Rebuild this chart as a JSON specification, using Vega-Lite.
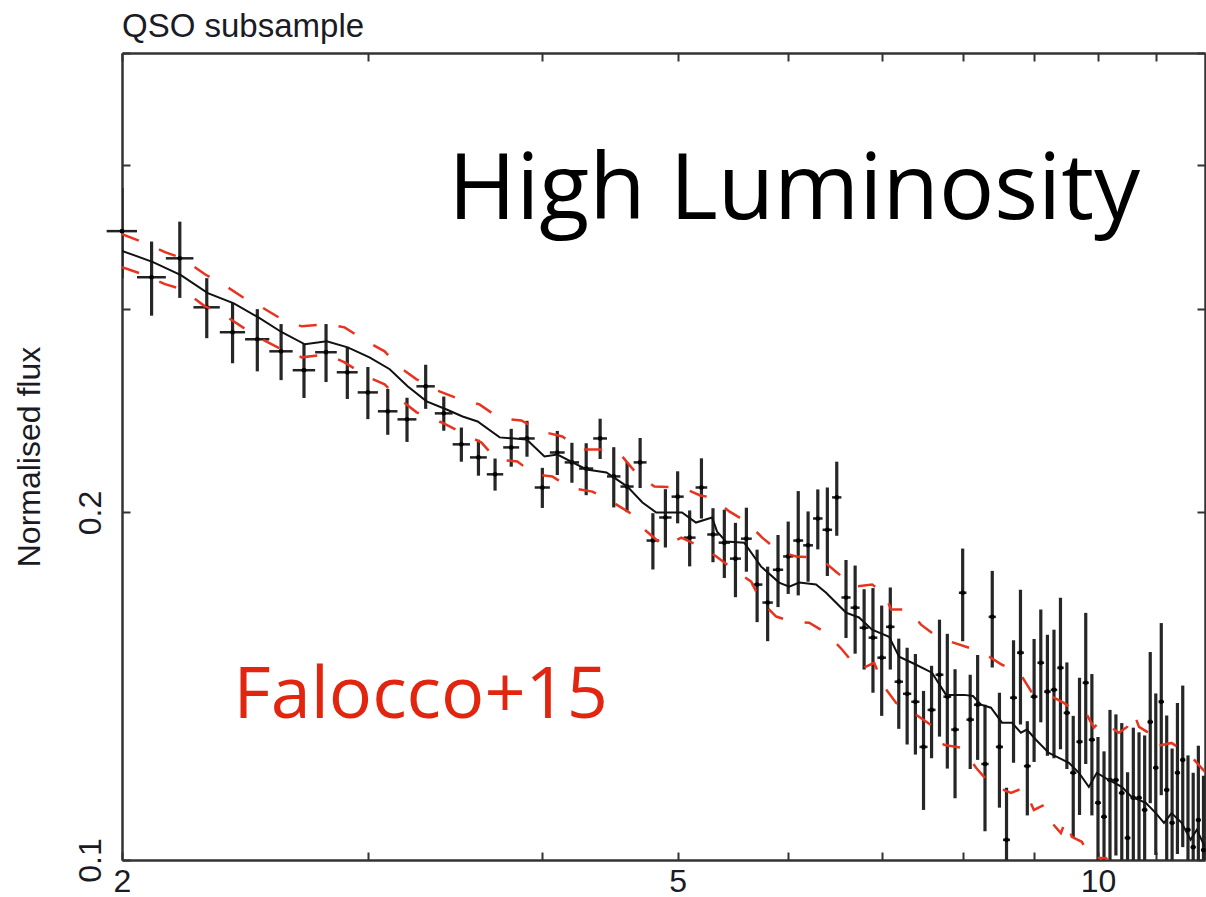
{
 "$schema": "https://vega.github.io/schema/vega-lite/v6.json",
 "width": 1083,
 "height": 807,
 "autosize": {"type": "none"},
 "padding": {"left": 122, "top": 53, "right": 1, "bottom": 37},
 "background": "white",
 "title": {"text": "QSO subsample", "anchor": "start", "frame": "group", "font": "Liberation Sans", "fontSize": 33, "fontWeight": "normal", "color": "#1b1b25", "baseline": "alphabetic", "offset": 16, "dy": 34},
 "config": {
  "view": {"stroke": null},
  "axis": {"grid": false, "domainColor": "#333", "domainWidth": 2.5, "tickColor": "#333", "tickWidth": 2, "tickSize": -8,
   "labelFont": "Liberation Sans", "labelFontSize": 32, "labelColor": "#1b1b25",
   "titleFont": "Liberation Sans", "titleFontSize": 32, "titleFontWeight": "normal", "titleColor": "#1b1b25"}
 },
 "datasets": {
  "pts": [
   {"E":2.0,"F":0.3505,"lo":0.3190,"hi":0.3820,"w":0.05},
   {"E":2.1,"F":0.3197,"lo":0.2961,"hi":0.3433,"w":0.05},
   {"E":2.2,"F":0.3320,"lo":0.3068,"hi":0.3572,"w":0.05},
   {"E":2.3,"F":0.3011,"lo":0.2831,"hi":0.3191,"w":0.05},
   {"E":2.4,"F":0.2865,"lo":0.2693,"hi":0.3037,"w":0.05},
   {"E":2.5,"F":0.2825,"lo":0.2650,"hi":0.3000,"w":0.05},
   {"E":2.6,"F":0.2758,"lo":0.2604,"hi":0.2912,"w":0.05},
   {"E":2.7,"F":0.2656,"lo":0.2513,"hi":0.2799,"w":0.05},
   {"E":2.8,"F":0.2753,"lo":0.2594,"hi":0.2912,"w":0.05},
   {"E":2.9,"F":0.2645,"lo":0.2508,"hi":0.2782,"w":0.05},
   {"E":3.0,"F":0.2541,"lo":0.2409,"hi":0.2673,"w":0.05},
   {"E":3.1,"F":0.2447,"lo":0.2335,"hi":0.2559,"w":0.05},
   {"E":3.2,"F":0.2408,"lo":0.2302,"hi":0.2514,"w":0.05},
   {"E":3.3,"F":0.2572,"lo":0.2459,"hi":0.2685,"w":0.05},
   {"E":3.4,"F":0.2437,"lo":0.2354,"hi":0.2520,"w":0.05},
   {"E":3.5,"F":0.2291,"lo":0.2213,"hi":0.2369,"w":0.05},
   {"E":3.6,"F":0.2232,"lo":0.2152,"hi":0.2312,"w":0.05},
   {"E":3.7,"F":0.2158,"lo":0.2089,"hi":0.2227,"w":0.05},
   {"E":3.8,"F":0.2277,"lo":0.2191,"hi":0.2363,"w":0.05},
   {"E":3.9,"F":0.2318,"lo":0.2235,"hi":0.2401,"w":0.05},
   {"E":4.0,"F":0.2102,"lo":0.2018,"hi":0.2186,"w":0.05},
   {"E":4.1,"F":0.2254,"lo":0.2155,"hi":0.2353,"w":0.05},
   {"E":4.2,"F":0.2210,"lo":0.2122,"hi":0.2298,"w":0.05},
   {"E":4.3,"F":0.2183,"lo":0.2070,"hi":0.2296,"w":0.05},
   {"E":4.4,"F":0.2318,"lo":0.2225,"hi":0.2411,"w":0.05},
   {"E":4.5,"F":0.2149,"lo":0.2020,"hi":0.2278,"w":0.05},
   {"E":4.6,"F":0.2106,"lo":0.2001,"hi":0.2211,"w":0.05},
   {"E":4.7,"F":0.2210,"lo":0.2100,"hi":0.2320,"w":0.05},
   {"E":4.8,"F":0.1891,"lo":0.1785,"hi":0.1997,"w":0.05},
   {"E":4.9,"F":0.1980,"lo":0.1865,"hi":0.2095,"w":0.05},
   {"E":5.0,"F":0.2064,"lo":0.1957,"hi":0.2171,"w":0.05},
   {"E":5.1,"F":0.1902,"lo":0.1796,"hi":0.2008,"w":0.05},
   {"E":5.2,"F":0.2102,"lo":0.1976,"hi":0.2228,"w":0.05},
   {"E":5.3,"F":0.1914,"lo":0.1811,"hi":0.2017,"w":0.05},
   {"E":5.4,"F":0.1883,"lo":0.1755,"hi":0.2011,"w":0.05},
   {"E":5.5,"F":0.1824,"lo":0.1689,"hi":0.1959,"w":0.05},
   {"E":5.6,"F":0.1898,"lo":0.1777,"hi":0.2019,"w":0.05},
   {"E":5.7,"F":0.1732,"lo":0.1607,"hi":0.1857,"w":0.05},
   {"E":5.8,"F":0.1671,"lo":0.1547,"hi":0.1795,"w":0.05},
   {"E":5.9,"F":0.1784,"lo":0.1656,"hi":0.1912,"w":0.05},
   {"E":6.0,"F":0.1832,"lo":0.1700,"hi":0.1964,"w":0.05},
   {"E":6.1,"F":0.1891,"lo":0.1695,"hi":0.2087,"w":0.05},
   {"E":6.2,"F":0.1873,"lo":0.1742,"hi":0.2004,"w":0.05},
   {"E":6.3,"F":0.1976,"lo":0.1858,"hi":0.2094,"w":0.05},
   {"E":6.4,"F":0.1932,"lo":0.1762,"hi":0.2102,"w":0.05},
   {"E":6.5,"F":0.2061,"lo":0.1909,"hi":0.2213,"w":0.05},
   {"E":6.6,"F":0.1688,"lo":0.1557,"hi":0.1819,"w":0.05},
   {"E":6.7,"F":0.1654,"lo":0.1509,"hi":0.1799,"w":0.05},
   {"E":6.8,"F":0.1589,"lo":0.1462,"hi":0.1716,"w":0.05},
   {"E":6.9,"F":0.1558,"lo":0.1396,"hi":0.1720,"w":0.05},
   {"E":7.0,"F":0.1497,"lo":0.1333,"hi":0.1661,"w":0.05},
   {"E":7.1,"F":0.1592,"lo":0.1462,"hi":0.1722,"w":0.05},
   {"E":7.2,"F":0.1427,"lo":0.1299,"hi":0.1555,"w":0.05},
   {"E":7.3,"F":0.1393,"lo":0.1259,"hi":0.1527,"w":0.05},
   {"E":7.4,"F":0.1371,"lo":0.1234,"hi":0.1508,"w":0.05},
   {"E":7.5,"F":0.1253,"lo":0.1105,"hi":0.1401,"w":0.05},
   {"E":7.6,"F":0.1349,"lo":0.1225,"hi":0.1473,"w":0.05},
   {"E":7.7,"F":0.1447,"lo":0.1279,"hi":0.1615,"w":0.05},
   {"E":7.8,"F":0.1385,"lo":0.1200,"hi":0.1570,"w":0.05},
   {"E":7.9,"F":0.1297,"lo":0.1131,"hi":0.1463,"w":0.05},
   {"E":8.0,"F":0.1704,"lo":0.1547,"hi":0.1861,"w":0.05},
   {"E":8.1,"F":0.1323,"lo":0.1199,"hi":0.1447,"w":0.05},
   {"E":8.2,"F":0.1363,"lo":0.1221,"hi":0.1505,"w":0.05},
   {"E":8.3,"F":0.1211,"lo":0.1059,"hi":0.1363,"w":0.05},
   {"E":8.4,"F":0.1624,"lo":0.1468,"hi":0.1780,"w":0.05},
   {"E":8.5,"F":0.1253,"lo":0.1110,"hi":0.1396,"w":0.05},
   {"E":8.6,"F":0.1041,"lo":0.0927,"hi":0.1155,"w":0.05},
   {"E":8.7,"F":0.1382,"lo":0.1214,"hi":0.1550,"w":0.05},
   {"E":8.8,"F":0.1512,"lo":0.1310,"hi":0.1714,"w":0.05},
   {"E":8.9,"F":0.1206,"lo":0.1093,"hi":0.1319,"w":0.05},
   {"E":9.0,"F":0.1385,"lo":0.1216,"hi":0.1554,"w":0.05},
   {"E":9.1,"F":0.1482,"lo":0.1316,"hi":0.1648,"w":0.05},
   {"E":9.2,"F":0.1399,"lo":0.1231,"hi":0.1567,"w":0.05},
   {"E":9.3,"F":0.1404,"lo":0.1225,"hi":0.1583,"w":0.05},
   {"E":9.4,"F":0.1467,"lo":0.1247,"hi":0.1687,"w":0.05},
   {"E":9.5,"F":0.1341,"lo":0.1199,"hi":0.1483,"w":0.05},
   {"E":9.6,"F":0.1190,"lo":0.1047,"hi":0.1333,"w":0.05},
   {"E":9.7,"F":0.1266,"lo":0.1094,"hi":0.1438,"w":0.05},
   {"E":9.8,"F":0.1424,"lo":0.1211,"hi":0.1637,"w":0.05},
   {"E":9.9,"F":0.1271,"lo":0.1093,"hi":0.1449,"w":0.05},
   {"E":10.0,"F":0.1121,"lo":0.0964,"hi":0.1278,"w":0.05},
   {"E":10.1,"F":0.1090,"lo":0.0938,"hi":0.1242,"w":0.05},
   {"E":10.2,"F":0.1173,"lo":0.0997,"hi":0.1349,"w":0.05},
   {"E":10.3,"F":0.1173,"lo":0.1009,"hi":0.1337,"w":0.05},
   {"E":10.4,"F":0.1143,"lo":0.0972,"hi":0.1314,"w":0.05},
   {"E":10.5,"F":0.1045,"lo":0.0899,"hi":0.1191,"w":0.05},
   {"E":10.6,"F":0.1132,"lo":0.0962,"hi":0.1302,"w":0.05},
   {"E":10.7,"F":0.1132,"lo":0.0974,"hi":0.1290,"w":0.05},
   {"E":10.8,"F":0.1105,"lo":0.0928,"hi":0.1282,"w":0.05},
   {"E":10.9,"F":0.1317,"lo":0.1120,"hi":0.1514,"w":0.05},
   {"E":11.0,"F":0.1202,"lo":0.1010,"hi":0.1394,"w":0.05},
   {"E":11.1,"F":0.1371,"lo":0.1138,"hi":0.1604,"w":0.05},
   {"E":11.2,"F":0.1150,"lo":0.0966,"hi":0.1334,"w":0.05},
   {"E":11.3,"F":0.1077,"lo":0.0905,"hi":0.1249,"w":0.05},
   {"E":11.4,"F":0.1190,"lo":0.1012,"hi":0.1368,"w":0.05},
   {"E":11.5,"F":0.1221,"lo":0.1026,"hi":0.1416,"w":0.05},
   {"E":11.6,"F":0.1062,"lo":0.0892,"hi":0.1232,"w":0.05},
   {"E":11.7,"F":0.1026,"lo":0.0862,"hi":0.1190,"w":0.05},
   {"E":11.8,"F":0.1083,"lo":0.0910,"hi":0.1256,"w":0.05},
   {"E":11.9,"F":0.1020,"lo":0.0857,"hi":0.1183,"w":0.05}
  ],
  "model": [
   {"E":2.0,"F":0.3370},{"E":2.105,"F":0.3295},{"E":2.204,"F":0.3210},{"E":2.304,"F":0.3097},
   {"E":2.405,"F":0.3035},{"E":2.503,"F":0.2952},{"E":2.603,"F":0.2865},{"E":2.704,"F":0.2797},
   {"E":2.803,"F":0.2814},{"E":2.902,"F":0.2780},{"E":3.008,"F":0.2725},{"E":3.110,"F":0.2661},
   {"E":3.203,"F":0.2572},{"E":3.305,"F":0.2496},{"E":3.416,"F":0.2456},{"E":3.507,"F":0.2422},
   {"E":3.595,"F":0.2398},{"E":3.728,"F":0.2323},{"E":3.898,"F":0.2313},{"E":4.014,"F":0.2236},
   {"E":4.101,"F":0.2245},{"E":4.302,"F":0.2179},{"E":4.446,"F":0.2166},{"E":4.602,"F":0.2106},
   {"E":4.718,"F":0.2040},{"E":4.826,"F":0.2000},{"E":5.036,"F":0.2000},{"E":5.153,"F":0.1960},
   {"E":5.292,"F":0.1980},{"E":5.336,"F":0.1925},{"E":5.416,"F":0.1887},{"E":5.580,"F":0.1883},
   {"E":5.738,"F":0.1795},{"E":5.911,"F":0.1739},{"E":6.010,"F":0.1725},{"E":6.110,"F":0.1739},
   {"E":6.282,"F":0.1732},{"E":6.387,"F":0.1704},{"E":6.600,"F":0.1638},{"E":6.743,"F":0.1622},
   {"E":6.890,"F":0.1583},{"E":7.086,"F":0.1561},{"E":7.204,"F":0.1500},{"E":7.384,"F":0.1479},
   {"E":7.605,"F":0.1453},{"E":7.784,"F":0.1390},{"E":8.018,"F":0.1390},{"E":8.137,"F":0.1387},
   {"E":8.246,"F":0.1363},{"E":8.382,"F":0.1355},{"E":8.536,"F":0.1315},{"E":8.676,"F":0.1315},
   {"E":8.806,"F":0.1289},{"E":8.894,"F":0.1297},{"E":9.027,"F":0.1271},{"E":9.222,"F":0.1238},
   {"E":9.376,"F":0.1226},{"E":9.532,"F":0.1214},{"E":9.690,"F":0.1190},{"E":9.850,"F":0.1157},
   {"E":9.981,"F":0.1190},{"E":10.18,"F":0.1173},{"E":10.40,"F":0.1157},{"E":10.57,"F":0.1134},
   {"E":10.82,"F":0.1121},{"E":11.00,"F":0.1098},{"E":11.15,"F":0.1077},{"E":11.29,"F":0.1098},
   {"E":11.48,"F":0.1077},{"E":11.65,"F":0.1041},{"E":11.77,"F":0.1062},{"E":11.93,"F":0.1026}
  ],
  "upper": [
   {"E":2.0,"F":0.3484},{"E":2.070,"F":0.3429},{"E":2.147,"F":0.3361},{"E":2.208,"F":0.3321},
   {"E":2.293,"F":0.3216},{"E":2.362,"F":0.3153},{"E":2.441,"F":0.3072},{"E":2.519,"F":0.3011},
   {"E":2.603,"F":0.2940},{"E":2.690,"F":0.2899},{"E":2.803,"F":0.2911},{"E":2.887,"F":0.2893},
   {"E":2.993,"F":0.2813},{"E":3.084,"F":0.2758},{"E":3.162,"F":0.2671},{"E":3.251,"F":0.2608},
   {"E":3.376,"F":0.2546},{"E":3.478,"F":0.2511},{"E":3.606,"F":0.2481},{"E":3.728,"F":0.2413},
   {"E":3.864,"F":0.2403},{"E":3.994,"F":0.2351},{"E":4.134,"F":0.2327},{"E":4.266,"F":0.2268},
   {"E":4.431,"F":0.2268},{"E":4.564,"F":0.2236},{"E":4.679,"F":0.2157},{"E":4.812,"F":0.2106},
   {"E":5.038,"F":0.2102},{"E":5.190,"F":0.2069},{"E":5.292,"F":0.2060},{"E":5.444,"F":0.2004},
   {"E":5.599,"F":0.1964},{"E":5.748,"F":0.1902},{"E":5.911,"F":0.1850},{"E":6.079,"F":0.1832},
   {"E":6.314,"F":0.1828},{"E":6.492,"F":0.1777},{"E":6.688,"F":0.1725},{"E":6.890,"F":0.1732},
   {"E":7.028,"F":0.1704},{"E":7.109,"F":0.1648},{"E":7.323,"F":0.1648},{"E":7.469,"F":0.1599},
   {"E":7.669,"F":0.1561},{"E":7.848,"F":0.1545},{"E":8.084,"F":0.1527},{"E":8.314,"F":0.1506},
   {"E":8.536,"F":0.1476},{"E":8.778,"F":0.1456},{"E":8.968,"F":0.1396},{"E":9.222,"F":0.1390},
   {"E":9.453,"F":0.1368},{"E":9.642,"F":0.1344},{"E":9.802,"F":0.1341},{"E":9.932,"F":0.1302},
   {"E":10.06,"F":0.1323},{"E":10.23,"F":0.1302},{"E":10.35,"F":0.1289},{"E":10.49,"F":0.1304},
   {"E":10.61,"F":0.1341},{"E":10.70,"F":0.1304},{"E":10.87,"F":0.1289},{"E":10.96,"F":0.1253},
   {"E":11.29,"F":0.1263},{"E":11.48,"F":0.1246},{"E":11.67,"F":0.1228},{"E":11.93,"F":0.1192}
  ],
  "lower": [
   {"E":2.0,"F":0.3262},{"E":2.070,"F":0.3216},{"E":2.147,"F":0.3153},{"E":2.208,"F":0.3121},
   {"E":2.293,"F":0.3017},{"E":2.362,"F":0.2970},{"E":2.441,"F":0.2893},{"E":2.519,"F":0.2825},
   {"E":2.603,"F":0.2769},{"E":2.690,"F":0.2725},{"E":2.803,"F":0.2742},{"E":2.887,"F":0.2698},
   {"E":2.993,"F":0.2624},{"E":3.084,"F":0.2582},{"E":3.162,"F":0.2506},{"E":3.251,"F":0.2442},
   {"E":3.388,"F":0.2393},{"E":3.490,"F":0.2351},{"E":3.618,"F":0.2299},{"E":3.709,"F":0.2223},
   {"E":3.839,"F":0.2214},{"E":3.948,"F":0.2157},{"E":4.067,"F":0.2149},{"E":4.182,"F":0.2102},
   {"E":4.344,"F":0.2085},{"E":4.482,"F":0.2044},{"E":4.617,"F":0.2000},{"E":4.733,"F":0.1933},
   {"E":4.891,"F":0.1869},{"E":5.030,"F":0.1902},{"E":5.208,"F":0.1865},{"E":5.329,"F":0.1832},
   {"E":5.489,"F":0.1784},{"E":5.645,"F":0.1742},{"E":5.738,"F":0.1674},{"E":5.882,"F":0.1625},
   {"E":6.039,"F":0.1609},{"E":6.211,"F":0.1605},{"E":6.387,"F":0.1573},{"E":6.559,"F":0.1521},
   {"E":6.743,"F":0.1461},{"E":6.913,"F":0.1482},{"E":7.028,"F":0.1413},{"E":7.168,"F":0.1368},
   {"E":7.408,"F":0.1336},{"E":7.593,"F":0.1309},{"E":7.758,"F":0.1258},{"E":7.992,"F":0.1251},
   {"E":8.178,"F":0.1202},{"E":8.382,"F":0.1162},{"E":8.663,"F":0.1143},{"E":8.851,"F":0.1155},
   {"E":8.997,"F":0.1105},{"E":9.146,"F":0.1116},{"E":9.268,"F":0.1077},{"E":9.406,"F":0.1055},
   {"E":9.484,"F":0.1083},{"E":9.578,"F":0.1047},{"E":9.737,"F":0.1037},{"E":9.883,"F":0.1004},
   {"E":10.13,"F":0.1004},{"E":10.30,"F":0.0980},{"E":10.70,"F":0.0942}
  ]
 },
 "layer": [
  {
   "data": {"name": "pts"},
   "mark": {"type": "rule", "clip": true, "color": "#262626", "strokeWidth": 3.2},
   "encoding": {
    "x": {"field": "E", "type": "quantitative",
     "scale": {"type": "log", "domain": [2, 11.93], "nice": false},
     "axis": {"orient": "bottom", "values": [2,3,4,5,6,7,8,9,10,11], "format": "d",
      "labelExpr": "datum.value == 2 || datum.value == 5 || datum.value == 10 ? datum.label : ''",
      "labelPadding": 14, "labelFlush": false, "labelOverlap": false, "title": null}},
    "y": {"field": "lo", "type": "quantitative",
     "scale": {"type": "log", "domain": [0.1, 0.5], "nice": false},
     "axis": {"orient": "left", "values": [0.1,0.2,0.3,0.4,0.5],
      "labelExpr": "datum.value < 0.25 ? format(datum.value, '.1f') : ''",
      "labelAngle": -90, "labelAlign": "center", "labelBaseline": "alphabetic",
      "labelPadding": 30, "labelFlush": false, "labelOverlap": false,
      "title": "Normalised flux", "titlePadding": 28}},
    "y2": {"field": "hi"}
   }
  },
  {
   "data": {"name": "pts"},
   "mark": {"type": "errorbar", "color": "#222", "thickness": 2.5},
   "encoding": {
    "x": {"field": "E", "type": "quantitative", "axis": null},
    "xError": {"field": "w"},
    "y": {"field": "F", "type": "quantitative", "axis": null}
   }
  },
  {
   "data": {"name": "pts"},
   "mark": {"type": "circle", "size": 22, "color": "#000", "opacity": 1},
   "encoding": {
    "x": {"field": "E", "type": "quantitative", "axis": null},
    "y": {"field": "F", "type": "quantitative", "axis": null}
   }
  },
  {
   "data": {"name": "upper"},
   "mark": {"type": "line", "color": "#e8341f", "strokeWidth": 2.5, "strokeDash": [18, 22], "clip": true},
   "encoding": {
    "x": {"field": "E", "type": "quantitative", "axis": null},
    "y": {"field": "F", "type": "quantitative", "axis": null}
   }
  },
  {
   "data": {"name": "lower"},
   "mark": {"type": "line", "color": "#e8341f", "strokeWidth": 2.5, "strokeDash": [18, 22], "clip": true},
   "encoding": {
    "x": {"field": "E", "type": "quantitative", "axis": null},
    "y": {"field": "F", "type": "quantitative", "axis": null}
   }
  },
  {
   "data": {"name": "model"},
   "mark": {"type": "line", "color": "#111", "strokeWidth": 2, "clip": true},
   "encoding": {
    "x": {"field": "E", "type": "quantitative",
     "axis": {"orient": "top", "values": [2,3,4,5,6,7,8,9,10,11], "labels": false, "title": null}},
    "y": {"field": "F", "type": "quantitative",
     "axis": {"orient": "right", "values": [0.1,0.2,0.3,0.4,0.5], "labels": false, "title": null}}
   }
  },
  {
   "data": {"values": [{"E": 6.06, "F": 0.3591, "t": "High Luminosity"}]},
   "mark": {"type": "text", "font": "Open Sans", "fontSize": 92, "align": "center", "baseline": "alphabetic", "color": "#000"},
   "encoding": {
    "x": {"field": "E", "type": "quantitative", "axis": null},
    "y": {"field": "F", "type": "quantitative", "axis": null},
    "text": {"field": "t"}
   }
  },
  {
   "data": {"values": [{"E": 3.273, "F": 0.1328, "t": "Falocco+15"}]},
   "mark": {"type": "text", "font": "Open Sans", "fontSize": 72, "align": "center", "baseline": "alphabetic", "color": "#e1250f"},
   "encoding": {
    "x": {"field": "E", "type": "quantitative", "axis": null},
    "y": {"field": "F", "type": "quantitative", "axis": null},
    "text": {"field": "t"}
   }
  }
 ],
 "resolve": {"axis": {"x": "independent", "y": "independent"}}
}
